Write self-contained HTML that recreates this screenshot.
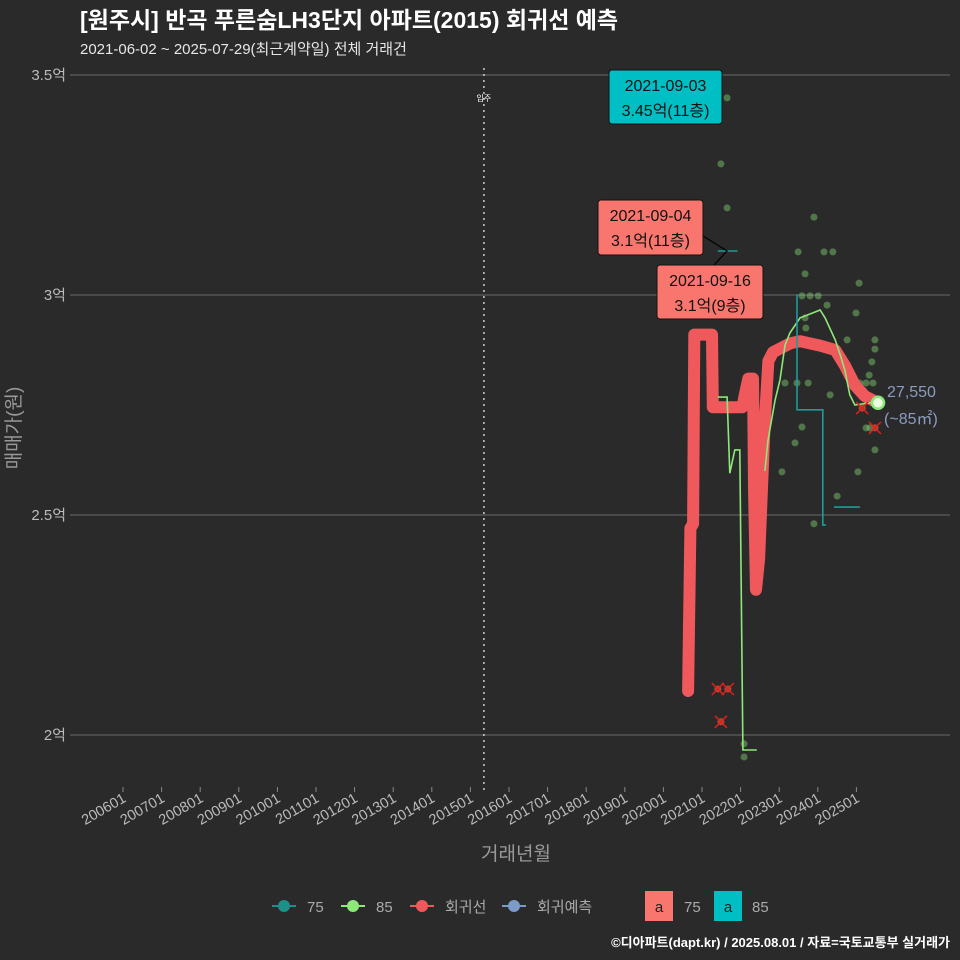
<!DOCTYPE html>
<html><head><meta charset="utf-8">
<style>
html,body{margin:0;padding:0;background:#2b2a2b;}
svg{display:block;font-family:"Liberation Sans","Noto Sans CJK KR",sans-serif;}
</style></head>
<body>
<svg id="chart" width="960" height="960" viewBox="0 0 960 960" xmlns="http://www.w3.org/2000/svg">
<rect width="960" height="960" fill="#2b2a2b"/>
<text x="80" y="28" fill="#ffffff" font-size="23" font-weight="bold">[원주시] 반곡 푸른숨LH3단지 아파트(2015) 회귀선 예측</text>
<text x="80" y="54" fill="#e6e6e6" font-size="15">2021-06-02 ~ 2025-07-29(최근계약일) 전체 거래건</text>
<g id="grid"></g>
<g id="marks"></g>
<text x="516" y="860" fill="#999" font-size="19" text-anchor="middle">거래년월</text>
<text transform="translate(20,428) rotate(-90)" fill="#999" font-size="19" text-anchor="middle">매매가(원)</text>
<g font-size="15" fill="#aaa">
  <g><line x1="272" y1="906" x2="296" y2="906" stroke="#1f8f8a" stroke-width="2"/><circle cx="284" cy="906" r="6" fill="#1f8f8a"/><text x="307" y="912">75</text></g>
  <g><line x1="341" y1="906" x2="365" y2="906" stroke="#8de87a" stroke-width="2"/><circle cx="353" cy="906" r="6" fill="#8de87a"/><text x="376" y="912">85</text></g>
  <g><line x1="410" y1="906" x2="434" y2="906" stroke="#f0595c" stroke-width="2"/><circle cx="422" cy="906" r="6" fill="#f0595c"/><text x="445" y="912">회귀선</text></g>
  <g><line x1="502" y1="906" x2="526" y2="906" stroke="#7d9bc8" stroke-width="2"/><circle cx="514" cy="906" r="6" fill="#7d9bc8"/><text x="537" y="912">회귀예측</text></g>
  <g><rect x="645" y="891" width="28" height="30" fill="#f8766d"/><text x="659" y="912" fill="#222" text-anchor="middle">a</text><text x="684" y="912">75</text></g>
  <g><rect x="714" y="891" width="28" height="30" fill="#00bfc4"/><text x="728" y="912" fill="#222" text-anchor="middle">a</text><text x="752" y="912">85</text></g>
</g>
<text x="950" y="947" fill="#ffffff" font-size="13" font-weight="bold" text-anchor="end">©디아파트(dapt.kr) / 2025.08.01 / 자료=국토교통부 실거래가</text>
</svg>
<script>
const yTicks = [20000, 25000, 30000, 35000];
const yTickLabels = ["2억", "2.5억", "3억", "3.5억"];
const xTickYears = [2006,2007,2008,2009,2010,2011,2012,2013,2014,2015,2016,2017,2018,2019,2020,2021,2022,2023,2024,2025];
const xTickLabels = ["200601","200701","200801","200901","201001","201101","201201","201301","201401","201501","201601","201701","201801","201901","202001","202101","202201","202301","202401","202501"];
const moveInYear = 2015.35;
const regDates = [2020.64,2020.70,2020.77,2020.80,2021.26,2021.28,2022.05,2022.10,2022.20,2022.32,2022.35,2022.40,2022.48,2022.62,2022.72,2022.84,2023.28,2023.54,2024.06,2024.45,2024.70,2024.96,2025.22,2025.56];
const regValues = [21000,24700,24800,29100,29100,27450,27450,27700,28100,28100,25500,23300,24000,27000,28500,28700,28900,28950,28850,28750,28400,27950,27700,27550];
const g85Dates = [2021.41,2021.65,2021.72,2021.85,2021.98,2022.06,2022.42,null,2022.63,2022.71,2022.89,2023.02,2023.15,2023.28,2023.54,2023.75,2024.06,2024.19,2024.45,2024.58,2024.70,2024.83,2024.96,2025.35,2025.56];
const g85Values = [27680,27680,25950,26480,26480,19660,19660,null,26000,26700,27600,28070,28860,29140,29480,29550,29660,29480,28980,28640,28300,27730,27500,27550,27550];
const g75Dates = [2021.41,2021.92,null,2023.44,2023.46,2023.46,2024.13,2024.13,2024.21,null,2024.42,2025.09];
const g75Values = [31000,31000,null,30000,30000,27390,27390,24770,24770,null,25180,25180];
const ptDates = [2021.65,2021.49,2021.65,2023.90,2023.49,2024.16,2024.39,2023.67,2025.07,2023.59,2023.80,2024.01,2024.24,2024.99,2023.67,2023.69,2024.76,2023.41,2025.48,2025.48,2025.40,2025.33,2025.25,2025.43,2025.09,2023.15,2023.46,2023.75,2024.32,2023.59,2023.41,2025.25,2025.35,2025.48,2023.07,2025.04,2024.50,2023.90,2022.09,2022.09];
const ptValues = [34480,32980,31980,31770,30980,30980,30980,30480,30270,29980,29980,29980,29770,29590,29480,29250,28980,28980,28980,28770,28480,28180,28000,28000,28000,28000,28000,28000,27730,27000,26640,26980,26980,26480,25980,25980,25430,24800,19800,19500];
const outDates = [2021.41,2021.67,2021.49,2025.48,2025.15];
const outValues = [21045,21045,20300,26980,27430];
const latestDate = 2025.56, latestValue = 27550;

const NS="http://www.w3.org/2000/svg";
const xs = y => 123 + (y-2006)*38.6;
const ys = v => 735 - (v-20000)*0.044;
function mk(tag, attrs, parent){const e=document.createElementNS(NS,tag);for(const k in attrs)e.setAttribute(k,attrs[k]);parent.appendChild(e);return e;}
const grid=document.getElementById('grid'), marks=document.getElementById('marks');
yTicks.forEach((v,i)=>{
  const l=mk('line',{x1:70,x2:950,y1:ys(v),y2:ys(v),stroke:'#6b6b6b','stroke-width':1},grid);
  
  
  const t=mk('text',{x:66,y:ys(v)+5,fill:'#bbb','font-size':15,'text-anchor':'end'},grid);
  t.textContent=yTickLabels[i];
  
  
});
xTickYears.forEach((yr,i)=>{
  const x=xs(yr);
  const tk=mk('line',{x1:x,x2:x,y1:787,y2:792,stroke:'#888'},grid);
  
  
  const t=mk('text',{transform:`translate(${x+4},${801}) rotate(-30)`,fill:'#bbb','font-size':14.5,'text-anchor':'end'},grid);
  t.textContent=xTickLabels[i];
  
  
});
const mv=mk('line',{x1:xs(moveInYear),x2:xs(moveInYear),y1:68,y2:790,stroke:'#ccc','stroke-width':1.5,'stroke-dasharray':'2,4'},grid);


const mvt=mk('text',{x:xs(moveInYear),y:101,fill:'#fff','font-size':8,'text-anchor':'middle'},grid);
mvt.textContent='입주';



function pathD(ds,vs){let d='',pen=false;ds.forEach((t,i)=>{if(t===null){pen=false;return;}d+=(pen?'L':'M')+xs(t).toFixed(1)+','+ys(vs[i]).toFixed(1);pen=true;});return d;}
ptDates.forEach((t,i)=>{
  const c=mk('circle',{cx:xs(t),cy:ys(ptValues[i]),r:3.5,fill:'#8de87a','fill-opacity':0.4},marks);
  
  
});
const reg=mk('path',{d:pathD(regDates,regValues),fill:'none',stroke:'#f0595c','stroke-width':12,'stroke-linejoin':'round','stroke-linecap':'round'},marks);


const l85=mk('path',{d:pathD(g85Dates,g85Values),fill:'none',stroke:'#8de87a','stroke-width':1.6},marks);


const l75=mk('path',{d:pathD(g75Dates,g75Values),fill:'none',stroke:'#1f9a9a','stroke-width':1.6},marks);


outDates.forEach((t,i)=>{
  const x=xs(t),y=ys(outValues[i]);
  const g=mk('g',{},marks);
  
  
  mk('circle',{cx:x,cy:y,r:3.5,fill:'#b04a3a'},g);
  mk('path',{d:`M${x-6},${y-6}L${x+6},${y+6}M${x-6},${y+6}L${x+6},${y-6}`,stroke:'#e0201a','stroke-width':1.5},g);
});
const lp=mk('circle',{cx:xs(latestDate),cy:ys(latestValue),r:6,fill:'#eaffe0',stroke:'#8de87a','stroke-width':2.5},marks);


const lt=mk('text',{x:xs(latestDate)+9,y:ys(latestValue)-6,fill:'#8a9cc0','font-size':16},marks);
lt.textContent=latestValue.toLocaleString('en-US');


const lt2=mk('text',{x:xs(latestDate)+6,y:ys(latestValue)+21,fill:'#8a9cc0','font-size':16},marks);
lt2.textContent='(~85㎡)';



const pk=[xs(2021.65),ys(31000)];
const ld=mk('path',{d:`M703,236L${pk[0]},${pk[1]}L714,265`,stroke:'#000','stroke-width':1.2,fill:'none'},marks);


function box(x,y,w,h,fill,l1,l2,name){
  const g=mk('g',{},marks);
  
  
  mk('rect',{x,y,width:w,height:h,rx:3,fill,stroke:'#111','stroke-width':1},g);
  const a=mk('text',{x:x+w/2,y:y+21,'font-size':16,fill:'#111','text-anchor':'middle'},g);a.textContent=l1;
  const b=mk('text',{x:x+w/2,y:y+46,'font-size':16,fill:'#111','text-anchor':'middle'},g);b.textContent=l2;
}
box(609,70,113,54,'#00bfc4','2021-09-03','3.45억(11층)','annotation-max-85');
box(598,200,105,55,'#f8766d','2021-09-04','3.1억(11층)','annotation-max-75a');
box(657,265,106,54,'#f8766d','2021-09-16','3.1억(9층)','annotation-max-75b');
</script>
</body></html>
